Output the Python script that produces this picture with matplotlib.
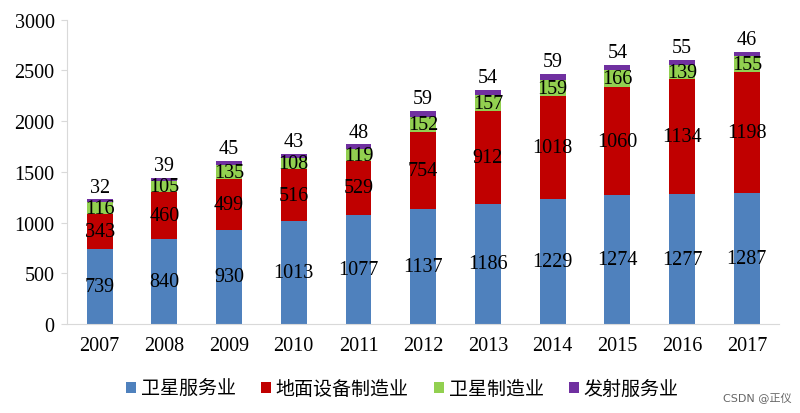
import matplotlib.pyplot as plt
import numpy as np

years = ['2007', '2008', '2009', '2010', '2011', '2012', '2013', '2014', '2015', '2016', '2017']
sat_service = [739, 840, 930, 1013, 1077, 1137, 1186, 1229, 1274, 1277, 1287]
ground_equip = [343, 460, 499, 516, 529, 754, 912, 1018, 1060, 1134, 1198]
sat_manuf = [116, 105, 135, 108, 119, 152, 157, 159, 166, 139, 155]
launch = [32, 39, 45, 43, 48, 59, 54, 59, 54, 55, 46]

names = ['卫星服务业', '地面设备制造业', '卫星制造业', '发射服务业']
colors = ['#4F81BD', '#C00000', '#92D050', '#7030A0']

plt.rcParams['font.family'] = ['Liberation Serif', 'Noto Sans CJK SC']

fig = plt.figure(figsize=(8, 4.14), dpi=100)
ax = fig.add_axes([0.084, 0.215, 0.89, 0.735])

x = np.arange(len(years))
w = 0.4
bottom = np.zeros(len(years))
series = [sat_service, ground_equip, sat_manuf, launch]
for i, (vals, c, n) in enumerate(zip(series, colors, names)):
    vals = np.array(vals)
    ax.bar(x, vals, w, bottom=bottom, color=c, label=n)
    for xi, b, v in zip(x, bottom, vals):
        if i == 3:
            ax.text(xi, b + v + 25, str(v), ha='center', va='bottom', fontsize=14.5)
        else:
            ax.text(xi, b + v / 2, str(v), ha='center', va='center', fontsize=14.5)
    bottom = bottom + vals

ax.set_xlim(-0.5, len(years) - 0.5)
ax.set_ylim(0, 3000)
ax.set_yticks(range(0, 3001, 500))
ax.set_xticks(x)
ax.set_xticklabels(years)
ax.tick_params(axis='both', labelsize=14.5, colors='#D9D9D9', labelcolor='black')
ax.tick_params(axis='x', length=0, pad=9)
ax.tick_params(axis='y', length=4, pad=5)
for s in ['top', 'right']:
    ax.spines[s].set_visible(False)
for s in ['left', 'bottom']:
    ax.spines[s].set_color('#D9D9D9')

leg = ax.legend(loc='center', bbox_to_anchor=(0.471, -0.212), ncol=4, frameon=False,
                prop={'family': 'Noto Sans CJK SC', 'size': 13.7},
                handlelength=0.5, handleheight=0.5, handletextpad=0.25, columnspacing=1.35)

fig.text(0.99, 0.025, 'CSDN @正仪', ha='right', va='bottom', fontsize=8, color='#666666',
         family=['DejaVu Sans', 'Noto Sans CJK SC'])

fig.savefig('out.png', dpi=100)
